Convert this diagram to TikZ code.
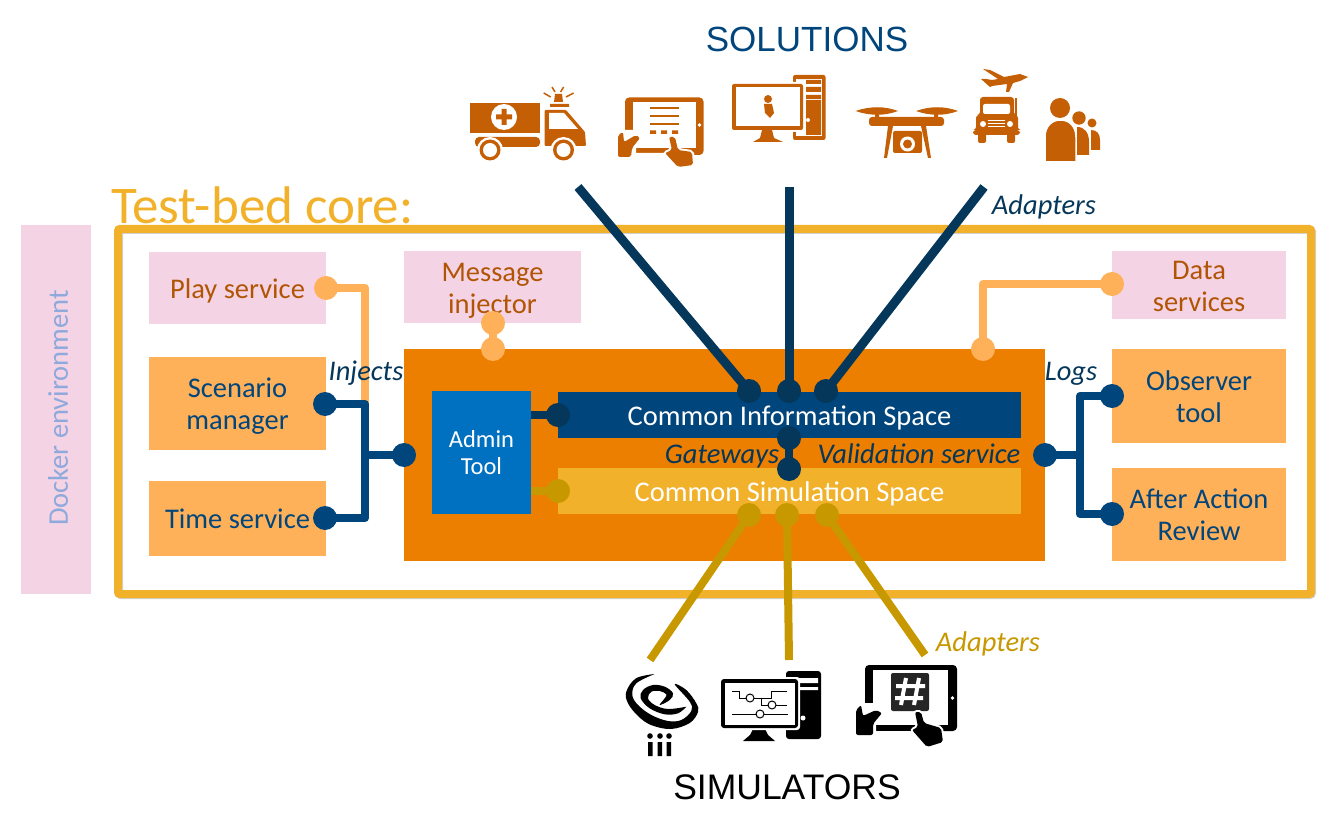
\documentclass[tikz,border=0pt]{standalone}
\usepackage{fontspec}
\setmainfont{Carlito}
\newfontfamily\headfont{Liberation Sans}
\definecolor{navy}{HTML}{00457C}
\definecolor{deepnavy}{HTML}{05375A}
\definecolor{gold}{HTML}{F2B12A}
\definecolor{darkgold}{HTML}{C89800}
\definecolor{pinkfill}{HTML}{F4D3E5}
\definecolor{peach}{HTML}{FFB15A}
\definecolor{coreorange}{HTML}{EC7E00}
\definecolor{adminblue}{HTML}{0070C0}
\definecolor{rust}{HTML}{C55F05}
\definecolor{dockerblue}{HTML}{8EA9DB}
\usetikzlibrary{positioning}
\tikzset{
  box/.style={inner sep=0pt, align=center, font=\fontsize{28.5}{32}\selectfont,
    execute at begin node={\rule{0pt}{27pt}}, execute at end node={\rule[-7pt]{0pt}{0pt}}},
  twolines/.style={execute at begin node={\rule{0pt}{59pt}}},
  pinkbox/.style={box, fill=pinkfill, text=rust!90!black},
  peachbox/.style={box, fill=peach, text=navy},
  spacebox/.style={box, text=white},
  dot/.style={circle, inner sep=0pt, minimum size=24pt},
  wire/.style={line width=8pt, line join=round},
  tag/.style={box, font=\fontsize{28.5}{32}\selectfont\itshape, text=deepnavy},
  icon/.style={fill=rust},
  simicon/.style={fill=black},
  halo/.style={preaction={draw=white, line width=4pt}, rounded corners=2pt}
}

\begin{document}
\begin{tikzpicture}[x=1pt, y=-1pt]
  \useasboundingbox (0,0) rectangle (1340,834);

  % frame and boxes
  \node[inner sep=0pt, minimum width=1193pt, minimum height=365pt, draw=black!18, line width=8pt, rounded corners=2pt] (shadow) at (715.5,412.5) {};
  \node[inner sep=0pt, minimum width=1193pt, minimum height=365pt, draw=gold, line width=8pt, rounded corners=2pt] (frame) at (714.5,411.5) {};
  \node[inner sep=0pt, fill=pinkfill, minimum width=70pt, minimum height=369pt] (docker) at (56,409.5) {};
  \node[inner sep=0pt, rotate=90, text=dockerblue, font=\fontsize{28.5}{32}\selectfont] (dockerlabel) at (58,408) {Docker environment};
  \node[inner sep=0pt, anchor=west, text=gold, font=\fontsize{53}{56}\selectfont] (corelabel) at (111,205) {Test-bed core:};

  \node[pinkbox, minimum width=177pt, minimum height=72pt] (play) at (237.5,288) {Play service};
  \node[pinkbox, twolines, minimum width=177pt, minimum height=72pt] (injector) at (492.5,287) {Message\\injector};
  \node[pinkbox, twolines, minimum width=174pt, minimum height=68pt] (data) at (1199,285) {Data\\services};
  \node[peachbox, twolines, minimum width=177pt, minimum height=93pt] (scenario) at (237.5,403.5) {Scenario\\manager};
  \node[peachbox, minimum width=177pt, minimum height=75pt] (time) at (237.5,518.5) {Time service};
  \node[peachbox, twolines, minimum width=174pt, minimum height=94pt] (observer) at (1199,396) {Observer\\tool};
  \node[peachbox, twolines, minimum width=174pt, minimum height=93pt] (review) at (1199,514.5) {After Action\\Review};

  \node[inner sep=0pt, fill=coreorange, minimum width=641pt, minimum height=212pt] (core) at (724.5,455) {};
  \node[spacebox, fill=adminblue, minimum width=99pt, minimum height=123pt, font=\fontsize{24.5}{27}\selectfont, execute at begin node={\rule{0pt}{51pt}}] (admin) at (481.5,452.5) {Admin\\Tool};
  \node[spacebox, fill=navy, minimum width=463pt, minimum height=46pt] (cis) at (789.5,415) {Common Information Space};
  \node[spacebox, fill=gold, minimum width=463pt, minimum height=46pt] (css) at (789.5,491) {Common Simulation Space};

  % dots
  \node[dot, fill=peach] (playdot) at (326,288) {};
  \node[dot, fill=peach] (injectordot) at (493,323) {};
  \node[dot, fill=peach] (coreinjectdot) at (493,349) {};
  \node[dot, fill=peach] (datadot) at (1112,284) {};
  \node[dot, fill=peach] (coredatadot) at (983,349) {};
  \node[dot, fill=navy] (scenariodot) at (325,404) {};
  \node[dot, fill=navy] (timedot) at (325,518) {};
  \node[dot, fill=navy] (coreleftdot) at (404,455) {};
  \node[dot, fill=navy] (corerightdot) at (1045,455) {};
  \node[dot, fill=navy] (observerdot) at (1112,396) {};
  \node[dot, fill=navy] (reviewdot) at (1112,514) {};
  \node[dot, fill=deepnavy] (adminnavydot) at (558,415) {};
  \node[dot, fill=darkgold] (admingolddot) at (558,491) {};
  \node[dot, fill=deepnavy] (solutiondota) at (749,391) {};
  \node[dot, fill=deepnavy] (solutiondotb) at (789,391) {};
  \node[dot, fill=deepnavy] (solutiondotc) at (826,391) {};
  \node[dot, fill=deepnavy] (gatewayup) at (789,438) {};
  \node[dot, fill=deepnavy] (gatewaydown) at (789,469) {};
  \node[dot, fill=darkgold] (simdota) at (749,515) {};
  \node[dot, fill=darkgold] (simdotb) at (787,515) {};
  \node[dot, fill=darkgold] (simdotc) at (827,515) {};

  \coordinate (playdrop) at (365,404);
  \coordinate (injectbus) at (365,455);
  \coordinate (bottomend) at (365,518);
  \coordinate (logbus) at (1080,455);
  \coordinate (solutionenda) at (578,187);
  \coordinate (solutionendb) at (789,187);
  \coordinate (solutionendc) at (984,187);
  \coordinate (simenda) at (650,660);
  \coordinate (simendb) at (789,660);
  \coordinate (simendc) at (925,655);

  % wires
  \draw[wire, peach] (playdot.center) -| (playdrop);
  \draw[wire, peach] (injectordot.center) -- (coreinjectdot.center);
  \draw[wire, peach] (datadot.center) -| (coredatadot.center);
  \draw[wire, navy] (scenariodot.center) -| (bottomend) -- (timedot.center);
  \draw[wire, navy] (injectbus) -- (coreleftdot.center);
  \draw[wire, navy] (observerdot.center) -| (reviewdot.center -| logbus) -- (reviewdot.center);
  \draw[wire, navy] (corerightdot.center) -- (logbus);
  \draw[wire, deepnavy] (admin.east |- adminnavydot) -- (adminnavydot.center);
  \draw[wire, darkgold] (admin.east |- admingolddot) -- (admingolddot.center);
  \draw[wire, deepnavy] (gatewayup.center) -- (gatewaydown.center);
  \draw[wire, deepnavy, line width=9pt] (solutionenda) -- (solutiondota.center);
  \draw[wire, deepnavy, line width=9pt] (solutionendb) -- (solutiondotb.center);
  \draw[wire, deepnavy, line width=9pt] (solutionendc) -- (solutiondotc.center);
  \draw[wire, darkgold] (simenda) -- (simdota.center);
  \draw[wire, darkgold] (simendb) -- (simdotb.center);
  \draw[wire, darkgold] (simendc) -- (simdotc.center);

  % labels
  \node[inner sep=0pt, text=navy, font=\headfont\fontsize{35}{40}\selectfont] (solutions) at (807,39) {SOLUTIONS};
  \node[inner sep=0pt, text=black, font=\headfont\fontsize{35.5}{40}\selectfont] (simulators) at (787,787) {SIMULATORS};
  \node[tag] (adaptersup) at (1044,205) {Adapters};
  \node[tag, text=darkgold] (adaptersdown) at (988,641) {Adapters};
  \node[tag] (injects) at (366,370) {Injects};
  \node[tag] (logs) at (1071,370) {Logs};
  \node[tag] (gateways) at (722,453) {Gateways};
  \node[tag] (validation) at (919,453) {Validation service};

  % ambulance
  \fill[icon] (470,103) rectangle (540,133);
  \fill[white] (504,117) circle[radius=13];
  \fill[icon] (501.5,109) rectangle (506.5,125) (496,114.5) rectangle (512,119.5);
  \fill[icon, rounded corners=4pt] (475,137) -- (540,137) -- (540,147) -- (475,147) -- cycle;
  \fill[icon, rounded corners=1pt] (544.5,110) -- (566,110) -- (585,132) -- (586,146) -- (544.5,146) -- cycle;
  \fill[white] (549,113) -- (564,113) -- (578,129) -- (549,129) -- cycle;
  \fill[white] (490,150) circle[radius=13] (563.5,150) circle[radius=13];
  \fill[icon] (490,150) circle[radius=10.5] (563.5,150) circle[radius=10.5];
  \fill[white] (490,150) circle[radius=7] (563.5,150) circle[radius=7];
  \fill[icon] (554,102) -- (555,94) -- (562,94) -- (563,102) -- cycle (550,104) rectangle (569,107);
  \draw[rust, line width=1.5pt] (552,87) -- (555,92) (563.6,87) -- (560.6,92) (543.7,93) -- (550.6,97) (573.6,93) -- (566,97);

  % tablet
  \fill[icon, rounded corners=4pt] (625,97.5) rectangle (703.5,155);
  \fill[white] (633,102) rectangle (696,148);
  \fill[white] (699.5,125) circle[radius=1.8];
  \draw[rust, line width=1.6pt] (650,108) -- (679,108) (650,116) -- (679,116) (650,124) -- (679,124);
  \fill[icon] (650,130.5) rectangle (656,134) (661,130.5) rectangle (667,134) (672,130.5) rectangle (678,134);
  \fill[white] (616,130) rectangle (636,160) (636,153) rectangle (694,160);
  \fill[icon, halo] (618,157) -- (618,135) -- (623,132) -- (624,142) -- (636,135) -- (640,138) -- (632,148) -- (631,157) -- cycle;
  \fill[icon, halo] (669,137) -- (675,137) -- (678,150) -- (692,152) -- (693,165) -- (678,167) -- (665,153) -- (672,150) -- cycle;

  % desktop computer
  \fill[icon, rounded corners=2pt] (793,75) rectangle (825.5,140);
  \fill[white] (796,79) rectangle (822,136);
  \fill[icon] (798,80) rectangle (821,84) (806,87) rectangle (821,92) (806,95) rectangle (821,99) (806,100) rectangle (821,135);
  \fill[white] (808,120) circle[radius=2];
  \fill[white] (798,80) rectangle (806,135);
  \fill[white, rounded corners=2pt] (730,82) rectangle (805,132);
  \fill[icon, rounded corners=2pt] (732,84) rectangle (803,130);
  \fill[white] (736,87) rectangle (800,126);
  \fill[icon] (768,99) circle[radius=4] (764,104) -- (772,104) -- (774,113) -- (770,118) -- (765,113) -- cycle;
  \fill[icon] (762,130) -- (772,130) -- (774,138) -- (783,142) -- (753,142) -- (760,138) -- cycle;

  % drone
  \fill[icon] (855.5,111) .. controls (870,106) and (885,106) .. (898,111) .. controls (885,116) and (870,116) .. (855.5,111) -- cycle;
  \fill[icon] (916,111) .. controls (930,106) and (945,106) .. (958,111) .. controls (945,116) and (930,116) .. (916,111) -- cycle;
  \fill[icon, rounded corners=3pt] (869,117) rectangle (944,126);
  \fill[icon] (875,108) rectangle (879,118) (934,108) rectangle (938,118);
  \fill[icon] (888,126) -- (893,126) -- (887,158) -- (884,158) -- cycle;
  \fill[icon] (921,126) -- (926,126) -- (931,158) -- (928,158) -- cycle;
  \fill[icon, rounded corners=2pt] (893,131) rectangle (922,153);
  \fill[white] (907.5,144) circle[radius=7.5];
  \fill[icon] (907.5,144) circle[radius=4.5];

  % truck and plane
  \fill[icon] (983,69) -- (990,70) -- (1004,77) -- (1020,74) -- (1028,77) -- (1020,81) -- (1013,83) -- (1009,92) -- (1006,92) -- (1007,84) -- (992,86) -- (990,87) -- (981,79) -- (986,79) -- (992,80) -- (998,79) -- cycle;
  \fill[icon, rounded corners=3pt] (980,115) -- (980,97) -- (1014,97) -- (1014,115) -- (1018,115) -- (1018,130) -- (1020,130) -- (1020,135) -- (973,135) -- (973,130) -- (976,130) -- (976,115) -- cycle;
  \fill[white, rounded corners=2pt] (983,104) rectangle (1010,114);
  \fill[icon, rounded corners=2pt] (978,133) rectangle (986,143) (1007,133) rectangle (1015,143);
  \fill[white] (983,124) circle[radius=3] (1010,124) circle[radius=3];
  \draw[white, line width=1pt] (988,121) -- (1005,121) (988,124) -- (1005,124) (988,127) -- (1005,127);
  \draw[rust, line width=2.5pt] (1016,98) -- (1016,116);

  % people
  \fill[icon] (1092,123) circle[radius=4.5] (1079,118) circle[radius=6.7];
  \fill[icon] (1091,130) .. controls (1097,130) and (1100,134) .. (1100,140) -- (1100,150) -- (1091,150) -- cycle;
  \fill[white] (1089,127) rectangle (1091,156);
  \fill[icon] (1077,127) .. controls (1085,127) and (1089,133) .. (1089,142) -- (1089,155) -- (1077,155) -- cycle;
  \fill[icon] (1060,108) circle[radius=10];
  \fill[icon, draw=white, line width=1.5pt] (1045,162) -- (1045,137) .. controls (1045,126) and (1052,120) .. (1060.5,120) .. controls (1069,120) and (1076,126) .. (1076,137) -- (1076,162) -- cycle;

  % galaxy
  \fill[simicon] plot[smooth, tension=0.6] coordinates {(654.7,674) (636,678.3) (626.3,691.7) (628,703.3) (638,716) (651,725) (671,729) (689.7,723) (698,712) (696.3,703.3) (686.3,690) (674.7,684.3) (689.7,701.7) (691.3,711) (681.3,720) (668,721) (651.3,715) (638,705) (632.3,695) (636.3,683.3) (654.7,674)};
  \fill[simicon] plot[smooth, tension=0.6] coordinates {(686.3,706.7) (678,713.3) (664.7,714.3) (649.7,708.3) (640.7,698.3) (643,690) (653,685) (664.7,686.7) (673,693.3) (669.7,700) (659.7,705) (664.7,698.3) (666.3,694.3) (659.7,691) (651.3,691.7) (648,698.3) (654.7,705) (668,709) (686.3,706.7)};
  \fill[simicon] (650,736) circle[radius=2.8] (660,736) circle[radius=2.8] (669,736) circle[radius=2.8];
  \fill[simicon] (648,742) rectangle (652.5,756) (657.5,742) rectangle (662,756) (666.5,742) rectangle (671,756);

  % simulator computer
  \fill[simicon, rounded corners=3pt] (786,671) rectangle (821,739);
  \fill[white] (796,678) rectangle (818,683) (796,687) rectangle (818,690);
  \fill[white] (803,718) circle[radius=2.5];
  \fill[simicon] (743,741) -- (750,735) -- (754,727) -- (764,727) -- (768,735) -- (775,741) -- cycle;
  \fill[white, rounded corners=3pt] (719,677) rectangle (800,730);
  \fill[simicon, rounded corners=3pt] (721,679) rectangle (798,728);
  \fill[white] (725,683) rectangle (795,725);
  \draw[black, line width=1pt] (732,691) -- (739,691) -- (739,698) -- (771,698) -- (771,691) -- (787,691) (761,699) -- (761,705) -- (787,705) (732,714) -- (788,714);
  \filldraw[fill=white, draw=black, line width=1pt] (750,698) circle[radius=4] (772,705) circle[radius=4] (760,714) circle[radius=4];

  % simulator tablet
  \fill[simicon, rounded corners=4pt] (865,665) rectangle (957,731);
  \fill[white] (873,670) rectangle (948,725);
  \fill[white] (952.5,698) circle[radius=1.8];
  \fill[black!85, rounded corners=2pt] (891,673) rectangle (929,711);
  \draw[white, line width=4pt] (906,678) -- (901,705) (919,678) -- (914,705) (896,686) -- (925,686) (895,698) -- (923,698);
  \fill[white] (854,703) rectangle (876,740) (876,731) rectangle (943,740);
  \fill[simicon, halo] (856,735) -- (856,710) -- (861,705) -- (863,716) -- (876,710) -- (882,713) -- (873,724) -- (873,735) -- cycle;
  \fill[simicon, halo] (915,712) -- (921,712) -- (924,723) -- (941,728) -- (943,742) -- (927,747) -- (912,730) -- (918,727) -- cycle;
\end{tikzpicture}
\end{document}
